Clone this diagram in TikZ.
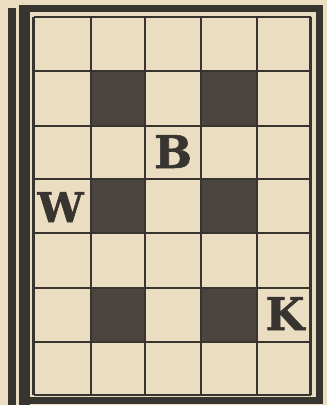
\documentclass[tikz,border=0pt]{standalone}
\usepackage{fontspec}
\newfontfamily\slab{DejaVu Serif}[BoldFeatures={FakeBold=1.2}]
\definecolor{paper}{RGB}{234,221,193}
\definecolor{ink}{RGB}{56,52,48}
\definecolor{shade}{RGB}{74,69,63}
\begin{document}
\begin{tikzpicture}[x=1pt,y=-1pt,
  gridline/.style={draw=ink,line width=2.2pt},
  bar/.style={fill=ink},
  darkcell/.style={fill=shade},
  letter/.style={inner sep=0pt,anchor=base,text=ink,font=\slab\bfseries\fontsize{45}{45}\selectfont}]
\fill[paper] (0,0) rectangle (327,405);
\useasboundingbox (0,0) rectangle (327,405);
% frame bars
\fill[bar] (8,8) rectangle (16,405);
\fill[bar] (19,5) rectangle (30,405);
\fill[bar] (19,5) rectangle (323,12);
\fill[bar] (316,5) rectangle (323,404);
\fill[bar] (19,397) rectangle (323,404);
% dark squares
\foreach \xa/\xb in {91/145,201/257}
  \foreach \ya/\yb in {71/126,179/233,288/342}
    \fill[darkcell] (\xa,\ya) rectangle (\xb,\yb);
% grid
\foreach \x in {33.5,91,145,201,257,310.5}
  \draw[gridline] (\x,17) -- (\x,395);
\foreach \y in {17,71,126,179,233,288,342,395}
  \draw[gridline] (33.5,\y) -- (310.5,\y);
% letters
\node[letter] (b) at (173,168) {B};
\node[letter,font=\slab\bfseries\fontsize{41}{41}\selectfont] (w) at (60.5,222) {W};
\node[letter] (k) at (285,330) {K};
\end{tikzpicture}
\end{document}
